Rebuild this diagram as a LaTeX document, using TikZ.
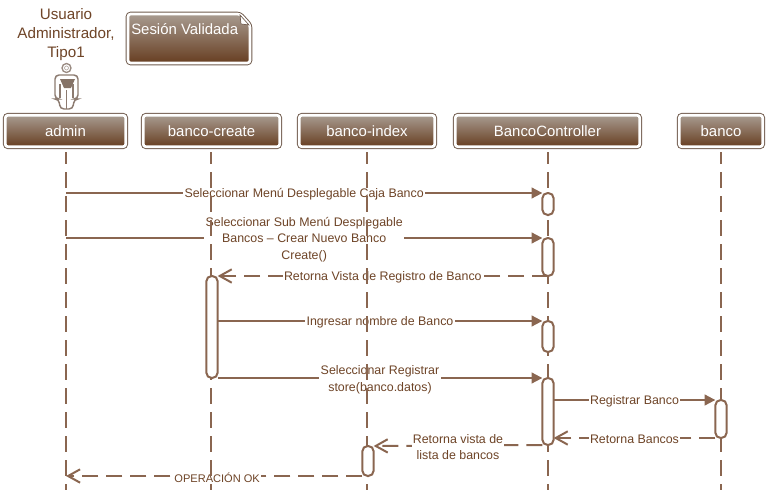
\documentclass[tikz,border=0pt]{standalone}
\usepackage{fontspec}
\setmainfont{Liberation Sans}
\usepackage{xcolor}
\usetikzlibrary{arrows.meta,backgrounds}
\definecolor{ink}{HTML}{6E4427}
\definecolor{wire}{HTML}{8A6650}
\definecolor{edge}{HTML}{6F5A4C}
\definecolor{shadetop}{HTML}{A89B90}
\definecolor{shadelow}{HTML}{673E21}
\tikzset{
  header/.style={preaction={draw=edge, line width=3.4pt, rounded corners=3pt}, draw=white, line width=2pt, rounded corners=2pt,
    top color=shadetop, bottom color=shadelow, minimum height=31.5*0.75pt, inner sep=0pt, text=white,
    font=\fontsize{11.2}{13}\selectfont},
  act/.style={draw=wire, fill=white, line width=1.5pt, rounded corners=4pt, minimum width=8.5pt, inner sep=0pt, outer sep=0pt},
  lifeline/.style={draw=wire, line width=1.5pt, dash pattern=on 12pt off 6pt, dash phase=3pt},
  msg/.style={draw=wire, line width=1.5pt, -{Triangle[length=8pt,width=8pt]}},
  ret/.style={draw=wire, line width=1.5pt, dash pattern=on 12pt off 6pt, -{Straight Barb[length=9pt,width=10pt]}},
  lab/.style={fill=white, inner sep=1pt, text=ink, align=center, yshift=-1.2pt, font=\fontsize{9.3}{12.3}\selectfont},
  t/.style={inner sep=0pt, text=ink, align=center, font=\fontsize{11.4}{14.2}\selectfont},
}
\begin{document}
\begin{tikzpicture}[x=0.75pt, y=-0.75pt]
  \useasboundingbox (0,0) rectangle (769,496);

  \node[t] (actorname) at (66,34.5) {Usuario\\Administrador,\\Tipo1};

  % the note keeps its folded corner
  \path[preaction={draw=edge, line width=3.4pt, rounded corners=3pt}, draw=white, line width=2pt, rounded corners=2pt, top color=shadetop, bottom color=shadelow]
    (128,14) -- (240,14) -- (250,25) -- (250,63) -- (128,63) -- cycle;
  \fill[white, draw=edge, line width=0.5pt] (240,15) -- (249,25) -- (241,24) -- cycle;
  \node[inner sep=0pt, anchor=west, text=white, font=\fontsize{11.2}{13}\selectfont] (sesion) at (131,29) {Sesión Validada};

  % actor
  \draw[edge!70, line width=1pt, fill=white] (66.5,68) circle (4.5);
  \draw[edge!50, line width=0.5pt] (66.5,68) circle (2);
  \draw[edge!80, line width=1.1pt, fill=white, rounded corners=3pt]
    (55,75) -- (78,75) -- (78,99) -- (74,99) -- (73,109) -- (60,109) -- (59,99) -- (55,99) -- cycle;
  \fill[edge!85] (60,79) -- (75,79) -- (71,88) -- (64,88) -- cycle;
  \draw[edge!80, line width=0.8pt] (60,84) -- (60,98) (73,84) -- (73,98) (66.5,90) -- (66.5,109);

  % heads of the lifelines
  \node[header, minimum width=120.5*0.75pt] (admin) at (65.5,131) {admin};
  \node[header, minimum width=136.5*0.75pt] (create) at (211.5,131) {banco-create};
  \node[header, minimum width=135.5*0.75pt] (index) at (367,131) {banco-index};
  \node[header, minimum width=184.5*0.75pt] (controller) at (547.5,131) {BancoController};
  \node[header, minimum width=83.5*0.75pt] (banco) at (721,131) {banco};

  \foreach \n/\x in {admin/66,create/211,index/367,controller/548,banco/721}
    \draw[lifeline] (\x,152) -- (\x,490);

  \node[act, minimum height=22*0.75pt] (menu) at (548,204) {};
  \node[act, minimum height=38*0.75pt] (submenu) at (548,257) {};
  \node[act, minimum height=31*0.75pt] (nombre) at (548,336.5) {};
  \node[act, minimum height=67*0.75pt] (store) at (548,411.5) {};
  \node[act, minimum height=102*0.75pt] (form) at (212,327) {};
  \node[act, minimum height=38*0.75pt] (save) at (721,419) {};
  \node[act, minimum height=30*0.75pt] (lista) at (368,461) {};

  \begin{scope}[on background layer]
    \draw[msg] (66,193) -- node[lab] (m1) {Seleccionar Menú Desplegable Caja Banco} (menu.north west);
    \draw[msg] (66,238) -- node[lab] (m2) {Seleccionar Sub Menú Desplegable\\Bancos -- Crear Nuevo Banco\\Create()} (submenu.north west);
    \draw[ret] (submenu.south) -- node[lab] (m3) {Retorna Vista de Registro de Banco} (form.north east);
    \draw[msg] (form.east |- nombre.north) -- node[lab] (m4) {Ingresar nombre de Banco} (nombre.north west);
    \draw[msg] (form.east |- store.north) -- node[lab] (m5) {Seleccionar Registrar\\store(banco.datos)} (store.north west);
    \draw[msg] (store.east |- save.north) -- node[lab] (m6) {Registrar Banco} (save.north west);
    \draw[ret] (save.south west) -- node[lab] (m7) {Retorna Bancos} (store.east |- save.south);
    \draw[ret] (store.south west) -- node[lab] (m8) {Retorna vista de\\lista de bancos} (lista.north east);
    \draw[ret] (lista.south west) -- node[lab, pos=0.49, font=\fontsize{8.3}{11}\selectfont] (m9) {OPERACIÓN OK} (66,476);
  \end{scope}
\end{tikzpicture}
\end{document}
